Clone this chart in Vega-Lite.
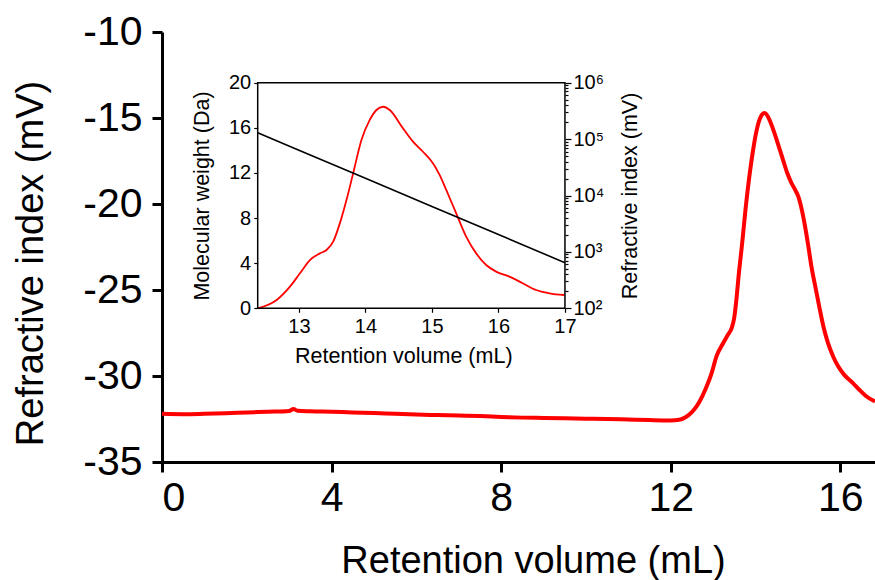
{
  "$schema": "https://vega.github.io/schema/vega-lite/v6.json",
  "width": 713,
  "height": 430,
  "autosize": "none",
  "padding": {"left": 162, "top": 32, "right": 0, "bottom": 118},
  "background": "white",
  "config": {
    "view": {"stroke": null},
    "font": "Liberation Sans",
    "axis": {"grid": false, "labelColor": "black", "titleColor": "black", "domainColor": "black", "tickColor": "black", "titleFontWeight": "normal", "labelFont": "Liberation Sans", "titleFont": "Liberation Sans"}
  },
  "datasets": {
    "main": [
      {"v": 0.0, "ri": -32.2}, {"v": 0.5, "ri": -32.22}, {"v": 1.0, "ri": -32.2}, {"v": 1.5, "ri": -32.17},
      {"v": 2.0, "ri": -32.12}, {"v": 2.5, "ri": -32.08}, {"v": 3.0, "ri": -32.03}, {"v": 3.1, "ri": -31.92},
      {"v": 3.2, "ri": -32.02}, {"v": 3.5, "ri": -32.05}, {"v": 4.0, "ri": -32.08}, {"v": 4.5, "ri": -32.12},
      {"v": 5.0, "ri": -32.15}, {"v": 5.5, "ri": -32.2}, {"v": 6.0, "ri": -32.24}, {"v": 6.5, "ri": -32.27},
      {"v": 7.0, "ri": -32.3}, {"v": 7.5, "ri": -32.33}, {"v": 8.0, "ri": -32.38}, {"v": 8.5, "ri": -32.42},
      {"v": 9.0, "ri": -32.44}, {"v": 9.5, "ri": -32.46}, {"v": 10.0, "ri": -32.48}, {"v": 10.5, "ri": -32.5},
      {"v": 11.0, "ri": -32.53}, {"v": 11.5, "ri": -32.56}, {"v": 12.0, "ri": -32.58}, {"v": 12.2, "ri": -32.55},
      {"v": 12.35, "ri": -32.4}, {"v": 12.5, "ri": -32.1}, {"v": 12.61, "ri": -31.77}, {"v": 12.75, "ri": -31.15},
      {"v": 12.85, "ri": -30.6}, {"v": 12.97, "ri": -29.8}, {"v": 13.08, "ri": -28.86}, {"v": 13.24, "ri": -28.08},
      {"v": 13.35, "ri": -27.6}, {"v": 13.44, "ri": -27.2}, {"v": 13.5, "ri": -26.6}, {"v": 13.55, "ri": -25.56},
      {"v": 13.61, "ri": -24.0}, {"v": 13.67, "ri": -22.66}, {"v": 13.79, "ri": -19.75}, {"v": 13.91, "ri": -17.42},
      {"v": 14.03, "ri": -15.69}, {"v": 14.12, "ri": -14.95}, {"v": 14.22, "ri": -14.71}, {"v": 14.32, "ri": -15.05},
      {"v": 14.42, "ri": -15.68}, {"v": 14.53, "ri": -16.5}, {"v": 14.65, "ri": -17.43}, {"v": 14.75, "ri": -18.2},
      {"v": 14.85, "ri": -18.78}, {"v": 14.93, "ri": -19.15}, {"v": 15.01, "ri": -19.56}, {"v": 15.09, "ri": -20.3},
      {"v": 15.17, "ri": -21.3}, {"v": 15.25, "ri": -22.5}, {"v": 15.32, "ri": -23.63}, {"v": 15.42, "ri": -24.9},
      {"v": 15.52, "ri": -26.15}, {"v": 15.61, "ri": -27.2}, {"v": 15.71, "ri": -28.08}, {"v": 15.83, "ri": -28.85},
      {"v": 15.95, "ri": -29.44}, {"v": 16.1, "ri": -29.95}, {"v": 16.3, "ri": -30.41}, {"v": 16.45, "ri": -30.8},
      {"v": 16.62, "ri": -31.19}, {"v": 16.82, "ri": -31.48}
    ],
    "inset": [
      {"v": 12.38, "s": 0.0}, {"v": 12.665, "s": 0.74}, {"v": 12.865, "s": 1.92}, {"v": 13.015, "s": 3.1},
      {"v": 13.165, "s": 4.28}, {"v": 13.315, "s": 4.87}, {"v": 13.415, "s": 5.17}, {"v": 13.515, "s": 5.91},
      {"v": 13.615, "s": 7.53}, {"v": 13.715, "s": 9.6}, {"v": 13.815, "s": 11.96}, {"v": 13.94, "s": 14.92},
      {"v": 14.065, "s": 16.7}, {"v": 14.165, "s": 17.58}, {"v": 14.265, "s": 17.87}, {"v": 14.365, "s": 17.58},
      {"v": 14.565, "s": 15.95}, {"v": 14.715, "s": 14.77}, {"v": 14.865, "s": 13.88}, {"v": 15.015, "s": 12.85},
      {"v": 15.115, "s": 11.82}, {"v": 15.215, "s": 10.49}, {"v": 15.365, "s": 8.42}, {"v": 15.515, "s": 6.35},
      {"v": 15.665, "s": 4.87}, {"v": 15.815, "s": 3.84}, {"v": 15.965, "s": 3.25}, {"v": 16.165, "s": 2.81},
      {"v": 16.365, "s": 2.22}, {"v": 16.565, "s": 1.62}, {"v": 16.765, "s": 1.33}, {"v": 16.99, "s": 1.18}
    ],
    "calib": [
      {"v": 12.38, "mw": 129700}, {"v": 13.0, "mw": 63680}, {"v": 14.0, "mw": 20180},
      {"v": 15.0, "mw": 6397}, {"v": 16.0, "mw": 2028}, {"v": 17.0, "mw": 643}
    ],
    "frame": [{"x1": 12.38, "x2": 17.0, "y1": 0, "y2": 20}]
  },
  "layer": [
    {
      "layer": [
        {
          "data": {"name": "main"},
          "mark": {"type": "line", "color": "#ff0000", "strokeWidth": 4, "interpolate": "monotone"},
          "encoding": {
            "x": {
              "field": "v", "type": "quantitative",
              "scale": {"domain": [0, 16.82], "nice": false, "zero": false},
              "axis": {
                "orient": "bottom", "values": [0, 4, 8, 12, 16], "format": "d",
                "domainWidth": 3, "tickWidth": 3, "tickSize": 10,
                "labelFontSize": 41, "labelPadding": 6,
                "title": "Retention volume (mL)", "titleFontSize": 38,
                "titleX": 371, "titleY": 110, "titleBaseline": "alphabetic", "titleAlign": "center"
              }
            },
            "y": {
              "field": "ri", "type": "quantitative",
              "scale": {"domain": [-35, -10], "nice": false, "zero": false},
              "axis": {
                "orient": "left", "values": [-35, -30, -25, -20, -15, -10],
                "labelExpr": "datum.value + ''",
                "domainWidth": 3, "tickWidth": 3, "tickSize": 10,
                "labelFontSize": 41, "labelPadding": 10,
                "title": "Refractive index (mV)", "titleFontSize": 38,
                "titleX": -120, "titleY": 231, "titleBaseline": "alphabetic", "titleAlign": "center", "titleAngle": 270
              }
            }
          }
        },
        {
          "mark": {"type": "rule", "color": "black", "strokeWidth": 3},
          "encoding": {"y": {"datum": -10, "type": "quantitative", "scale": {"domain": [-35, -10], "nice": false, "zero": false}}}
        }
      ]
    },
    {
      "layer": [
        {
          "layer": [
            {
              "data": {"name": "inset"},
              "mark": {"type": "line", "color": "#ff0000", "strokeWidth": 1.8, "interpolate": "monotone"},
              "encoding": {
                "x": {
                  "field": "v", "type": "quantitative",
                  "scale": {"domain": [10.941, 21.662], "nice": false, "zero": false},
                  "axis": {
                    "orient": "bottom", "offset": -153.7, "domain": false,
                    "values": [13, 14, 15, 16, 17], "format": "d",
                    "tickSize": 4, "tickWidth": 1.2, "labelFontSize": 20, "labelPadding": 4,
                    "title": "Retention volume (mL)", "titleFontSize": 21.5,
                    "titleX": 241.3, "titleY": 53.7, "titleBaseline": "alphabetic", "titleAlign": "center"
                  }
                },
                "y": {
                  "field": "s", "type": "quantitative",
                  "scale": {"domain": [-13.626, 24.495], "nice": false, "zero": false},
                  "axis": {
                    "orient": "left", "offset": -95.7, "domain": false,
                    "values": [0, 4, 8, 12, 16, 20], "format": "d",
                    "tickSize": 4, "tickWidth": 1.2, "labelFontSize": 20, "labelPadding": 3,
                    "title": "Molecular weight (Da)", "titleFontSize": 21.5,
                    "titleX": -49.7, "titleY": 163.5, "titleBaseline": "alphabetic", "titleAlign": "center", "titleAngle": 270
                  }
                }
              }
            },
            {
              "data": {"name": "frame"},
              "mark": {"type": "rect", "fillOpacity": 0, "stroke": "black", "strokeWidth": 1.5},
              "encoding": {
                "x": {"field": "x1", "type": "quantitative", "scale": {"domain": [10.941, 21.662], "nice": false, "zero": false}},
                "x2": {"field": "x2"},
                "y": {"field": "y1", "type": "quantitative", "scale": {"domain": [-13.626, 24.495], "nice": false, "zero": false}},
                "y2": {"field": "y2"}
              }
            }
          ]
        },
        {
          "data": {"name": "calib"},
          "mark": {"type": "line", "color": "black", "strokeWidth": 1.6},
          "encoding": {
            "x": {"field": "v", "type": "quantitative", "scale": {"domain": [10.941, 21.662], "nice": false, "zero": false}},
            "y": {
              "field": "mw", "type": "quantitative",
              "scale": {"type": "log", "domain": [0.1883, 7924000], "nice": false},
              "axis": {
                "orient": "right", "offset": -310, "domain": false,
                "values": [100, 200, 300, 400, 500, 600, 700, 800, 900, 1000, 2000, 3000, 4000, 5000, 6000, 7000, 8000, 9000, 10000, 20000, 30000, 40000, 50000, 60000, 70000, 80000, 90000, 100000, 200000, 300000, 400000, 500000, 600000, 700000, 800000, 900000, 1000000],
                "labelExpr": "datum.value == 100 ? '10²' : datum.value == 1000 ? '10³' : datum.value == 10000 ? '10⁴' : datum.value == 100000 ? '10⁵' : datum.value == 1000000 ? '10⁶' : ''",
                "tickSize": {"condition": {"test": "indexof([100,1000,10000,100000,1000000], datum.value) >= 0", "value": 6}, "value": 3},
                "tickWidth": 1.2, "labelFontSize": 20, "labelPadding": 2, "labelOverlap": false,
                "title": "Refractive index (mV)", "titleFontSize": 21.5,
                "titleX": 71, "titleY": 163.5, "titleBaseline": "alphabetic", "titleAlign": "center", "titleAngle": 270
              }
            }
          }
        }
      ],
      "resolve": {"scale": {"y": "independent"}}
    }
  ],
  "resolve": {"scale": {"x": "independent", "y": "independent"}}
}
